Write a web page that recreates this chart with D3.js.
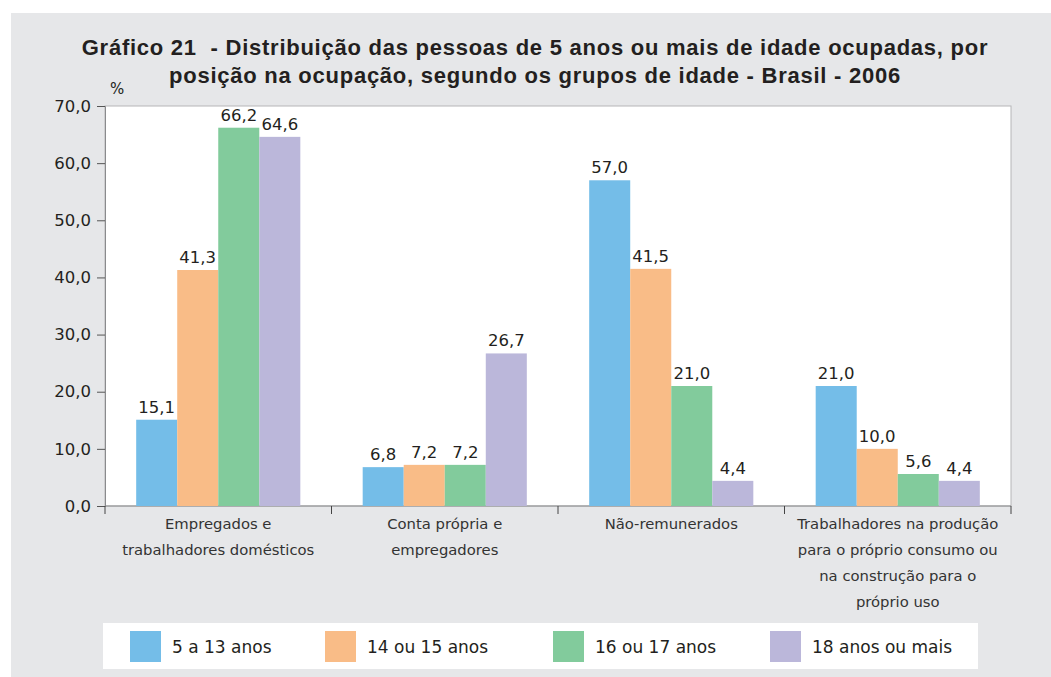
<!DOCTYPE html>
<html>
<head>
<meta charset="utf-8">
<script src="https://cdn.jsdelivr.net/npm/d3@7"></script>
<style>
body { margin: 0; background: #fff; }
svg text { font-family: "DejaVu Sans", sans-serif; }
</style>
</head>
<body>
<svg id="chart" width="1051" height="677"></svg>
<script>

var categories = [
	["Empregados e", "trabalhadores domésticos"],
	["Conta própria e", "empregadores"],
	["Não-remunerados"],
	["Trabalhadores na produção", "para o próprio consumo ou", "na construção para o", "próprio uso"]
];
var seriesNames = ["5 a 13 anos", "14 ou 15 anos", "16 ou 17 anos", "18 anos ou mais"];
var seriesColors = ["#74bde8", "#f9bc87", "#82cb9c", "#bbb7da"];

var v5a13 = [15.1, 6.8, 57.0, 21.0];
var v14a15 = [41.3, 7.2, 41.5, 10.0];
var v16a17 = [66.2, 7.2, 21.0, 5.6];
var v18mais = [64.6, 26.7, 4.4, 4.4];

var yTicks = [0, 10, 20, 30, 40, 50, 60, 70];

var values = [v5a13, v14a15, v16a17, v18mais];
var comma = function(v) { return d3.format(".1f")(v).replace(".", ","); };

var svg = d3.select("#chart");

// background panel
svg.append("rect").attr("x", 11).attr("y", 13).attr("width", 1040).attr("height", 664).attr("fill", "#e6e7e9");

var pLeft = 105, pRight = 1011, pTop = 106, pBottom = 506;

svg.append("rect").attr("x", pLeft).attr("y", pTop).attr("width", pRight - pLeft).attr("height", pBottom - pTop)
	.attr("fill", "#fff").attr("stroke", "#b5b6b8").attr("stroke-width", 1);

var x0 = d3.scaleBand().domain(d3.range(categories.length)).range([pLeft, pRight]);
var x1 = d3.scaleBand().domain(d3.range(seriesNames.length)).range([0, x0.bandwidth()]).paddingOuter(0.76);
var y = d3.scaleLinear().domain([0, 70]).range([pBottom, pTop]);

// title
var title = svg.append("text").attr("text-anchor", "middle").attr("fill", "#231f20")
	.style("font-family", "'Liberation Sans', Arial, sans-serif")
	.style("font-weight", "bold").style("font-size", "22px").style("letter-spacing", "0.75px");
title.append("tspan").attr("x", 535).attr("y", 55).text("Gráfico 21\u00a0 - Distribuição das pessoas de 5 anos ou mais de idade ocupadas, por");
title.append("tspan").attr("x", 535).attr("y", 83).text("posição na ocupação, segundo os grupos de idade - Brasil - 2006");

svg.append("text").attr("x", 110).attr("y", 94).attr("fill", "#231f20").style("font-size", "15px").text("%");

// y axis
var yAxis = svg.append("g").attr("transform", "translate(" + pLeft + ",0)")
	.call(d3.axisLeft(y).tickValues(yTicks).tickFormat(comma).tickSizeOuter(0).tickSize(8).tickPadding(6));
yAxis.select(".domain").attr("stroke", "#8a8b8d");
yAxis.selectAll(".tick line").attr("stroke", "#555");
yAxis.selectAll(".tick text").attr("fill", "#231f20").style("font-size", "16.5px").style("font-family", "DejaVu Sans");

// x axis line and category ticks
svg.append("line").attr("x1", pLeft).attr("x2", pRight).attr("y1", pBottom).attr("y2", pBottom).attr("stroke", "#8a8b8d");
svg.selectAll(".cattick")
	.data(d3.range(categories.length + 1))
	.enter()
	.append("line")
	.attr("x1", function(d) { return pLeft + d * x0.bandwidth(); })
	.attr("x2", function(d) { return pLeft + d * x0.bandwidth(); })
	.attr("y1", pBottom)
	.attr("y2", pBottom + 8)
	.attr("stroke", "#444");

// bars
var groups = svg.selectAll(".grp")
	.data(categories)
	.enter()
	.append("g")
	.attr("transform", function(d, i) { return "translate(" + x0(i) + ",0)"; });

groups.each(function(c, ci)
{
	var g = d3.select(this);
	var rows = values.map(function(s, si) { return { s: si, v: s[ci] }; });
	g.selectAll("rect")
		.data(rows)
		.enter()
		.append("rect")
		.attr("x", function(d) { return x1(d.s); })
		.attr("width", x1.bandwidth())
		.attr("y", function(d) { return y(d.v); })
		.attr("height", function(d) { return pBottom - y(d.v); })
		.attr("fill", function(d) { return seriesColors[d.s]; });
	g.selectAll(".val")
		.data(rows)
		.enter()
		.append("text")
		.attr("text-anchor", "middle")
		.attr("x", function(d) { return x1(d.s) + x1.bandwidth() / 2; })
		.attr("y", function(d) { return y(d.v) - 7; })
		.attr("fill", "#231f20")
		.style("font-size", "16.5px")
		.text(function(d) { return comma(d.v); });
	var lbl = g.append("text").attr("text-anchor", "middle").attr("fill", "#333").style("font-size", "14.8px");
	lbl.selectAll("tspan")
		.data(c)
		.enter()
		.append("tspan")
		.attr("x", x0.bandwidth() / 2)
		.attr("y", function(d, i) { return 529 + i * 26; })
		.text(function(d) { return d; });
});

// legend
svg.append("rect").attr("x", 103).attr("y", 623).attr("width", 875).attr("height", 46).attr("fill", "#fff");
var legendX = [130, 325, 553, 770];
var leg = svg.selectAll(".leg")
	.data(seriesNames)
	.enter()
	.append("g")
	.attr("transform", function(d, i) { return "translate(" + legendX[i] + ",631)"; });
leg.append("rect").attr("width", 31).attr("height", 31).attr("fill", function(d, i) { return seriesColors[i]; });
leg.append("text").attr("x", 42).attr("y", 22).attr("fill", "#231f20").style("font-size", "17px").text(function(d) { return d; });

</script>
</body>
</html>
